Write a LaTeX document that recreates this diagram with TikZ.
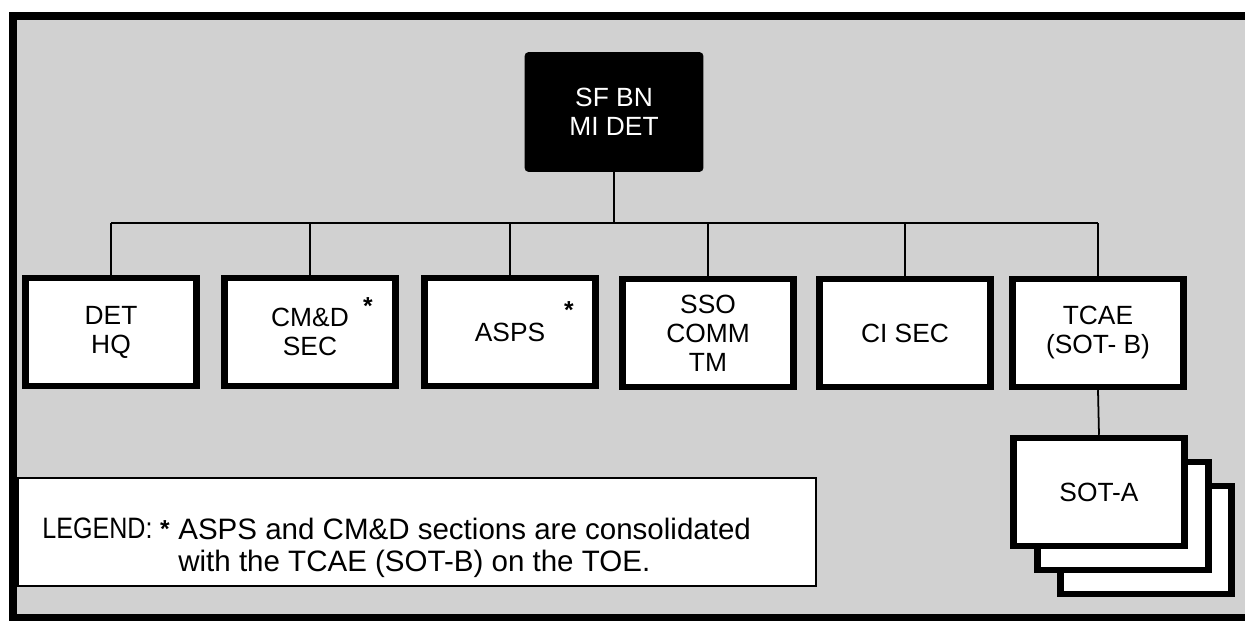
\documentclass[tikz,border=0pt]{standalone}
\usepackage{fontspec}
\setmainfont{Liberation Sans}
\newfontfamily\legendfont[FakeStretch=0.85]{Liberation Sans}
\usepackage{tikz}

\begin{document}
\begin{tikzpicture}[x=0.02cm, y=-0.02cm,
    unitbox/.style={draw, line width=3.7pt, fill=white, minimum width=3.42cm,
      minimum height=2.16cm, inner sep=0pt, align=center,
      font=\fontsize{15}{16.5}\selectfont},
    topbox/.style={draw, fill=black, text=white, rounded corners=2pt,
      minimum width=3.56cm, minimum height=2.38cm, inner sep=0pt, align=center,
      font=\fontsize{15}{16.5}\selectfont},
    link/.style={line width=1pt},
    starmark/.style={inner sep=0pt, anchor=north,
      font=\fontsize{14}{14}\selectfont\bfseries},
    legendtext/.style={inner sep=0pt, align=left,
      font=\fontsize{16.8}{18}\selectfont}]

    \useasboundingbox (0,0) rectangle (1245,621);

    \fill[black!18] (13,16) rectangle (1245,618);
    \draw[line width=4pt] (1245,16) -- (13,16) -- (13,618) -- (1245,618);

    \node[topbox] (midet) at (614,112) {SF BN\\MI DET};

    \node[unitbox] (dethq) at (111,332) {DET\\HQ};
    \node[unitbox] (cmd) at (310,332) {CM\&D\\SEC};
    \node[unitbox] (asps) at (510,332) {ASPS};
    \node[unitbox] (sso) at (708,333) {SSO\\COMM\\TM};
    \node[unitbox] (cisec) at (905,333) {CI SEC};
    \node[unitbox] (tcae) at (1098,333) {TCAE\\(SOT- B)};

    \node[starmark] (cmdstar) at (368,297) {*};
    \node[starmark] (aspsstar) at (569,301) {*};

    \coordinate (bus) at (0,223);

    \draw[link] (midet.south) -- (midet.south |- bus);
    \draw[link] (dethq.north |- bus) -- (tcae.north |- bus);

    \draw[link] (dethq.north) -- (dethq.north |- bus);
    \draw[link] (cmd.north) -- (cmd.north |- bus);
    \draw[link] (asps.north) -- (asps.north |- bus);
    \draw[link] (sso.north) -- (sso.north |- bus);
    \draw[link] (cisec.north) -- (cisec.north |- bus);
    \draw[link] (tcae.north) -- (tcae.north |- bus);

    \node[unitbox] (sota3) at (1146,540) {};
    \node[unitbox] (sota2) at (1123,516) {};
    \node[unitbox] (sota) at (1099,492) {SOT-A};

    \draw[link] (tcae.south) -- (sota.north);

    \node[draw, line width=1.2pt, fill=white, minimum width=15.96cm,
      minimum height=2.16cm, inner sep=0pt] (legend) at (417,532) {};

    \node[inner sep=0pt, anchor=north west, font=\legendfont\fontsize{16.8}{18}\selectfont]
      (legendlabel) at (42,518) {LEGEND:};
    \node[starmark] (legendstar) at (165,520) {*};
    \node[legendtext, anchor=north west] (legendnote) at (178,518)
      {ASPS and CM\&D sections are consolidated\\with the TCAE (SOT-B) on the TOE.};

\end{tikzpicture}
\end{document}
